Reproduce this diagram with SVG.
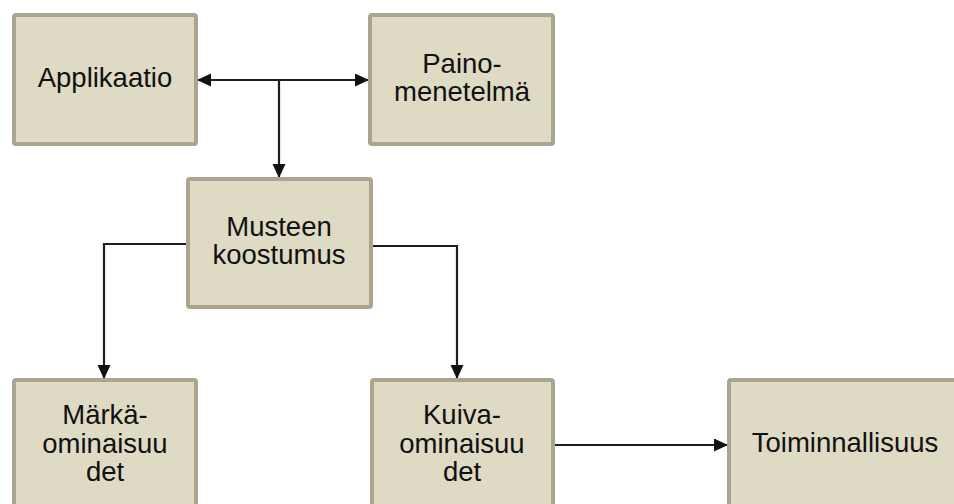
<svg xmlns="http://www.w3.org/2000/svg" width="954" height="504" viewBox="0 0 954 504">
<style>
.box{fill:#dedac4;stroke:#a9a590;stroke-width:4}
.t{font-family:"Liberation Sans",Arial,sans-serif;font-size:27.5px;fill:#111;text-anchor:middle}
.c{fill:none;stroke:#1e1e1e;stroke-width:2.2}
</style>
<defs>
<marker id="ah" markerWidth="14" markerHeight="14" refX="13" refY="6.5" orient="auto-start-reverse" markerUnits="userSpaceOnUse">
<path d="M0,0 L14,6.5 L0,13 Z" fill="#111"/>
</marker>
</defs>
<rect width="954" height="504" fill="#fff"/>
<g id="connectors">
<line class="c" x1="198" y1="80" x2="368" y2="80" marker-start="url(#ah)" marker-end="url(#ah)"/>
<line class="c" x1="279" y1="80" x2="279" y2="177" marker-end="url(#ah)"/>
<polyline class="c" points="186,244 104,244 104,378" marker-end="url(#ah)"/>
<polyline class="c" points="373,246 457,246 457,378" marker-end="url(#ah)"/>
<line class="c" x1="555" y1="445" x2="727" y2="445" marker-end="url(#ah)"/>
</g>
<g id="applikaatio">
<rect class="box" x="14" y="15" width="182" height="129" rx="2"/>
<text class="t" x="105" y="87">Applikaatio</text>
</g>
<g id="painomenetelma">
<rect class="box" x="370" y="15" width="183" height="129" rx="2"/>
<text class="t" x="462" y="73">Paino-</text>
<text class="t" x="462" y="101">menetelmä</text>
</g>
<g id="musteen">
<rect class="box" x="188" y="179" width="183" height="128" rx="2"/>
<text class="t" x="279" y="236">Musteen</text>
<text class="t" x="279" y="264">koostumus</text>
</g>
<g id="marka">
<rect class="box" x="14" y="380" width="182" height="140" rx="2"/>
<text class="t" x="105" y="424">Märkä-</text>
<text class="t" x="105" y="453">ominaisuu</text>
<text class="t" x="105" y="481">det</text>
</g>
<g id="kuiva">
<rect class="box" x="372" y="380" width="181" height="140" rx="2"/>
<text class="t" x="462" y="424">Kuiva-</text>
<text class="t" x="462" y="453">ominaisuu</text>
<text class="t" x="462" y="481">det</text>
</g>
<g id="toiminnallisuus">
<rect class="box" x="729" y="380" width="240" height="140" rx="2"/>
<text class="t" x="845" y="452">Toiminnallisuus</text>
</g>
</svg>
